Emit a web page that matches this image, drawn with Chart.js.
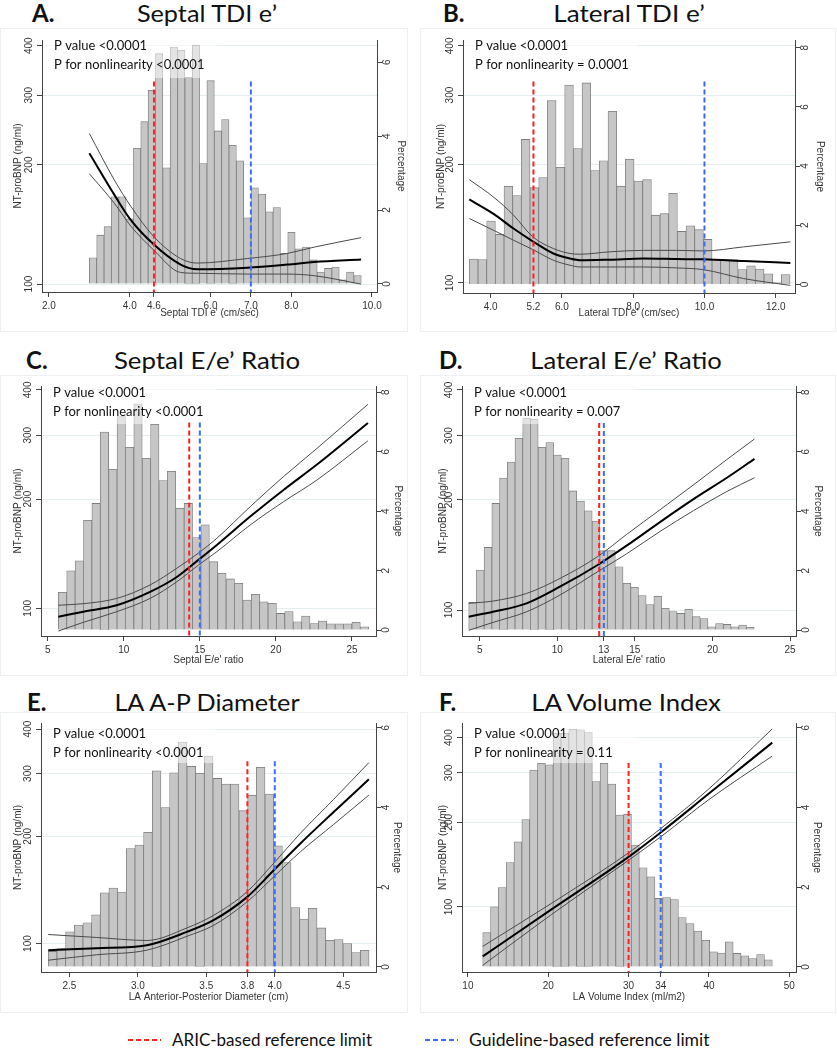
<!DOCTYPE html>
<html>
<head>
<meta charset="utf-8">
<script src="https://cdn.jsdelivr.net/npm/chart.js@4.4.1/dist/chart.umd.min.js"></script>
<style>
  body { margin: 0; width: 837px; height: 1050px; background: #fff; position: relative; overflow: hidden; }
  .frame { position: absolute; border: 1px solid #edf0f0; box-sizing: border-box; }
  .plot { position: absolute; }
  .letter, .title { position: absolute; font-family: Lato, sans-serif; font-size: 24px; line-height: 24px; color: #111; white-space: nowrap; }
  .letter { font-weight: bold; }
  .title { transform: translateX(-50%); }
  .legend { position: absolute; top: 1030px; font-family: Lato, sans-serif; font-size: 17px; line-height: 20px; color: #111; white-space: nowrap; transform-origin: 0 50%; }
</style>
</head>
<body>

<div class="letter" style="left:32px;top:1px">A.</div>
<div class="title" data-w="140" style="left:207px;top:1px">Septal TDI e’</div>
<div class="letter" style="left:443px;top:1px">B.</div>
<div class="title" data-w="152" style="left:629px;top:1px">Lateral TDI e’</div>
<div class="letter" style="left:26px;top:348px">C.</div>
<div class="title" data-w="186" style="left:207px;top:348px">Septal E/e’ Ratio</div>
<div class="letter" style="left:439px;top:348px">D.</div>
<div class="title" data-w="192" style="left:626px;top:348px">Lateral E/e’ Ratio</div>
<div class="letter" style="left:27px;top:690px">E.</div>
<div class="title" data-w="185" style="left:207px;top:690px">LA A-P Diameter</div>
<div class="letter" style="left:439px;top:690px">F.</div>
<div class="title" data-w="190" style="left:626px;top:690px">LA Volume Index</div>

<div class="frame" style="left:0;top:28px;width:408px;height:304px"></div>
<div class="frame" style="left:420px;top:28px;width:416px;height:304px"></div>
<div class="frame" style="left:0;top:375px;width:408px;height:301px"></div>
<div class="frame" style="left:420px;top:375px;width:416px;height:301px"></div>
<div class="frame" style="left:0;top:712px;width:408px;height:301px"></div>
<div class="frame" style="left:420px;top:712px;width:416px;height:301px"></div>

<canvas id="chartA" class="plot" style="left:0;top:28px" width="408" height="304"></canvas>
<canvas id="chartB" class="plot" style="left:420px;top:28px" width="416" height="304"></canvas>
<canvas id="chartC" class="plot" style="left:0;top:375px" width="408" height="301"></canvas>
<canvas id="chartD" class="plot" style="left:420px;top:375px" width="416" height="301"></canvas>
<canvas id="chartE" class="plot" style="left:0;top:712px" width="408" height="301"></canvas>
<canvas id="chartF" class="plot" style="left:420px;top:712px" width="416" height="301"></canvas>

<svg style="position:absolute;left:0;top:1030px" width="837" height="20">
  <line x1="128" y1="10" x2="161" y2="10" stroke="#ff2020" stroke-width="2" stroke-dasharray="5,3"/>
  <line x1="425" y1="10" x2="458" y2="10" stroke="#3b6ef5" stroke-width="2" stroke-dasharray="5,3"/>
</svg>
<div class="legend" data-w="200" style="left:172px">ARIC-based reference limit</div>
<div class="legend" data-w="241" style="left:469px">Guideline-based reference limit</div>

<script>
// ---- shared ticks / reference line top
const leftTicks = [100, 200, 300, 400];
const refTop = 325;

// ---- A. Septal TDI e'
const sepTdiBinStart = 3.0;
const sepTdiBinWidth = 0.182;
const sepTdiPct = [0.71, 1.32, 1.55, 2.36, 2.36, 1.76, 3.67, 4.39, 5.24, 6.23, 3.14, 6.41, 6.32, 5.59, 6.46, 3.26, 5.50, 4.14, 4.45, 3.75, 3.33, 1.79, 2.60, 2.43, 1.95, 2.07, 0.83, 1.40, 0.95, 1.00, 0.65, 0.32, 0.42, 0.46, 0.11, 0.32, 0.23];
const sepTdiCurveX = [3.0, 3.62, 4.03, 4.59, 5.26, 5.67, 6.91, 7.9, 8.57, 9.73];
const sepTdiMid = [214, 168, 145, 126, 112, 109, 110, 112, 113.7, 115.4];
const sepTdiUpper = [240, 183, 157, 132, 116, 113, 116, 119.5, 124, 131];
const sepTdiLower = [190, 160, 140, 122, 107, 106.5, 106, 106, 105, 100];
const sepTdiXTicks = [2, 4, 4.6, 6, 7, 8, 10];
const sepTdiRightTicks = [0, 2, 4, 6];
const sepTdiRefs = [4.6, 7.0];
const sepTdiNotes = ['P value <0.0001', 'P for nonlinearity <0.0001'];

// ---- B. Lateral TDI e'
const latTdiBinStart = 3.402;
const latTdiBinWidth = 0.2432;
const latTdiPct = [0.86, 0.84, 2.14, 1.69, 3.32, 3.00, 4.90, 3.27, 3.61, 6.21, 3.96, 6.74, 4.59, 6.81, 3.85, 4.18, 5.85, 3.32, 4.23, 3.49, 3.54, 2.34, 2.39, 3.08, 1.79, 1.98, 1.85, 1.52, 0.84, 0.84, 0.84, 0.50, 0.63, 0.52, 0.36, 0.05, 0.33];
const latTdiCurveX = [3.40, 4.07, 4.64, 5.18, 5.76, 6.23, 6.51, 7.35, 8.29, 9.22, 9.97, 11.10, 12.41];
const latTdiMid = [163, 150, 137.5, 127.6, 118.8, 115.3, 114.2, 114.6, 115.3, 115, 114.8, 113.7, 112.4];
const latTdiUpper = [183, 165.5, 148.7, 131, 122.3, 118.8, 118.3, 120, 121, 121, 120.6, 123.5, 127.2];
const latTdiLower = [145.8, 136.2, 128.4, 121.6, 114.2, 110.9, 109.8, 109.8, 109.8, 109.2, 108.1, 102.6, 98.6];
const latTdiXTicks = [4, 5.2, 6, 8, 10, 12];
const latTdiRightTicks = [0, 2, 4, 6, 8];
const latTdiRefs = [5.2, 10.0];
const latTdiNotes = ['P value <0.0001', 'P for nonlinearity = 0.0001'];

// ---- C. Septal E/e' ratio
const sepEeBinStart = 5.70;
const sepEeBinWidth = 0.5513;
const sepEePct = [1.27, 1.99, 2.33, 3.69, 4.26, 6.66, 5.41, 7.18, 6.15, 7.61, 5.78, 6.92, 5.03, 5.34, 4.10, 4.26, 3.11, 3.54, 2.30, 1.91, 1.72, 1.57, 1.01, 1.20, 0.95, 0.90, 0.56, 0.62, 0.28, 0.47, 0.22, 0.30, 0.21, 0.21, 0.21, 0.26, 0.11];
const sepEeCurveX = [5.70, 7.34, 9.54, 11.73, 13.49, 14.91, 16.12, 18.31, 20.5, 22.7, 26.05];
const sepEeMid = [94.8, 97.9, 102, 111, 122, 136, 149.5, 179, 212, 249, 324];
const sepEeUpper = [102, 103, 106.5, 116, 129, 142, 156, 190.6, 230.7, 276, 365];
const sepEeLower = [86.6, 91.5, 97.9, 106.5, 118.4, 131.6, 143.3, 169.7, 196.7, 225.8, 289.6];
const sepEeXTicks = [5, 10, 15, 20, 25];
const sepEeRightTicks = [0, 2, 4, 6, 8];
const sepEeRefs = [14.3, 15];
const sepEeNotes = ['P value <0.0001', 'P for nonlinearity <0.0001'];

// ---- D. Lateral E/e' ratio
const latEeBinStart = 4.29;
const latEeBinWidth = 0.4973;
const latEePct = [0.93, 2.02, 2.78, 4.26, 5.11, 5.65, 6.45, 7.13, 7.09, 6.15, 6.31, 5.89, 5.78, 4.68, 4.34, 4.01, 3.67, 2.67, 2.67, 2.13, 1.57, 1.44, 1.16, 0.86, 1.14, 0.73, 0.62, 0.56, 0.70, 0.45, 0.39, 0.11, 0.22, 0.19, 0.11, 0.17, 0.09];
const latEeCurveX = [4.29, 5.86, 8.02, 10.17, 12.6, 14.47, 16.62, 18.78, 20.93, 22.71];
const latEeMid = [95.9, 98.9, 104.3, 115.8, 132.8, 150, 174, 201, 230, 259];
const latEeUpper = [104.3, 105.8, 111, 122, 140, 161, 188, 220, 258, 293.7];
const latEeLower = [88, 92.5, 98.9, 109.9, 127.3, 142.5, 164, 187, 211, 230];
const latEeXTicks = [5, 10, 13, 15, 20, 25];
const latEeRightTicks = [0, 2, 4, 6, 8];
const latEeRefs = [12.7, 13];
const latEeNotes = ['P value <0.0001', 'P for nonlinearity = 0.007'];

// ---- E. LA A-P diameter
const laApBinStart = 2.346;
const laApBinWidth = 0.0633;
const laApPct = [0.39, 0.46, 0.88, 1.05, 1.11, 1.31, 1.86, 1.98, 1.88, 2.97, 3.06, 3.38, 4.92, 4.00, 4.87, 5.64, 5.03, 4.86, 5.29, 4.73, 4.59, 4.59, 3.92, 4.31, 5.01, 4.34, 3.04, 2.62, 1.49, 1.20, 1.47, 0.98, 0.67, 0.69, 0.59, 0.36, 0.42];
const laApCurveX = [2.346, 2.7, 3.066, 3.358, 3.553, 3.797, 3.992, 4.187, 4.43, 4.687];
const laApMid = [95.8, 97, 98.9, 107.8, 116.3, 135, 160.6, 191, 234, 289];
const laApUpper = [106, 104, 102, 110.6, 120, 139.7, 168, 204, 254, 322];
const laApLower = [89.8, 93, 95.8, 104.8, 112.5, 130.9, 153.9, 181, 216, 261];
const laApXTicks = [2.5, 3.0, 3.5, 3.8, 4.0, 4.5];
const laApRightTicks = [0, 2, 4, 6];
const laApRefs = [3.8, 4.0];
const laApNotes = ['P value <0.0001', 'P for nonlinearity <0.0001'];

// ---- F. LA volume index
const laviBinStart = 11.845;
const laviBinWidth = 0.974;
const laviPct = [0.86, 1.51, 1.99, 2.62, 3.14, 3.70, 4.94, 5.11, 5.07, 5.86, 5.86, 5.96, 5.95, 5.88, 4.65, 5.11, 4.59, 3.81, 3.83, 3.06, 2.49, 2.26, 1.72, 1.74, 1.69, 1.24, 1.09, 0.90, 0.67, 0.38, 0.35, 0.63, 0.34, 0.28, 0.21, 0.31, 0.18];
const laviCurveX = [11.845, 20.4, 30, 34, 40, 47.88];
const laviMid = [66.7, 98, 150.7, 184, 253, 384];
const laviUpper = [72.4, 103, 155.8, 190, 263, 430];
const laviLower = [62, 94, 146.6, 177.6, 241, 344];
const laviXTicks = [10, 20, 30, 34, 40, 50];
const laviRightTicks = [0, 2, 4, 6];
const laviRefs = [30, 34];
const laviNotes = ['P value <0.0001', 'P for nonlinearity = 0.11'];

Chart.defaults.font.family = '"Liberation Sans", Arial, sans-serif';
Chart.defaults.color = '#333';

// squeeze the headings and legend text to the widths of the original
document.querySelectorAll('.title').forEach(el => {
    const s = Number(el.dataset.w) / el.offsetWidth;
    el.style.transform = 'translateX(-50%) scaleX(' + s + ')';
});
document.querySelectorAll('.legend').forEach(el => {
    const s = Number(el.dataset.w) / el.offsetWidth;
    el.style.transform = 'scaleX(' + s + ')';
});

// white see-through box behind the P values, then the text itself
const pNotePlugin = {
    id: 'pnote',
    afterDatasetDraw(chart, args, opts) {
        if (args.index !== 0) return;
        const a = chart.chartArea;
        const ctx = chart.ctx;
        ctx.save();
        ctx.fillStyle = 'rgba(255,255,255,0.5)';
        ctx.fillRect(a.left + 1, a.top, opts.boxWidth, opts.boxHeight);
        ctx.restore();
    },
    afterDatasetsDraw(chart, args, opts) {
        const a = chart.chartArea;
        const ctx = chart.ctx;
        ctx.save();
        ctx.font = '14px Lato';
        ctx.fillStyle = '#111';
        // first line is 93px wide in the original
        const sx = 93 / ctx.measureText(opts.lines[0]).width;
        opts.lines.forEach((t, i) => {
            ctx.save();
            ctx.translate(a.left + 12, a.top + opts.textTop + i * 19);
            ctx.scale(sx, 1);
            ctx.fillText(t, 0, 0);
            ctx.restore();
        });
        ctx.restore();
    }
};

// vertical (rotated) tick labels on both y axes
const sideTicksPlugin = {
    id: 'sideticks',
    afterDraw(chart) {
        const ctx = chart.ctx;
        ctx.save();
        ctx.font = '10px "Liberation Sans"';
        ctx.fillStyle = '#333';
        ctx.textAlign = 'center';
        ctx.textBaseline = 'middle';
        ['y', 'y2'].forEach(id => {
            const sc = chart.scales[id];
            const x = id === 'y' ? sc.right - 12.5 : sc.left + 10;
            sc.ticks.forEach(t => {
                const py = sc.getPixelForValue(t.value);
                ctx.save();
                ctx.translate(x, py);
                ctx.rotate(-Math.PI / 2);
                ctx.fillText(String(t.value), 0, 0);
                ctx.restore();
            });
        });
        ctx.restore();
    }
};

function makePanel(canvasId, d, lay) {
    const bars = d.pct.map((v, i) => ({ x: d.binStart + d.binWidth * (i + 0.5), y: v }));
    const curve = vals => d.curveX.map((x, i) => ({ x: x, y: vals[i] }));
    const spline = (vals, color, width) => ({
        type: 'line', data: curve(vals), yAxisID: 'y',
        borderColor: color, borderWidth: width, pointRadius: 0,
        cubicInterpolationMode: 'monotone', order: 2
    });
    const refLine = (x, color) => ({
        type: 'line', data: [{ x: x, y: refTop }, { x: x, y: lay.yMin }], yAxisID: 'y',
        borderColor: color, borderWidth: 2, borderDash: [5, 3], pointRadius: 0, order: 1
    });
    const tickList = list => scale => { scale.ticks = list.map(v => ({ value: v })); };

    new Chart(document.getElementById(canvasId), {
        type: 'bar',
        data: {
            datasets: [
                {
                    type: 'bar', data: bars, yAxisID: 'y2',
                    backgroundColor: '#c6c6c6', borderColor: '#7c7c7c', borderWidth: 0.8,
                    barPercentage: 1, categoryPercentage: 1, order: 3
                },
                spline(d.upper, '#4a4a4a', 1),
                spline(d.lower, '#4a4a4a', 1),
                spline(d.mid, '#000', 2),
                refLine(d.refs[0], '#ff2020'),
                refLine(d.refs[1], '#3b6ef5')
            ]
        },
        options: {
            responsive: false,
            animation: false,
            layout: { padding: { top: lay.top, left: 0, right: 0, bottom: 0 } },
            plugins: {
                legend: { display: false },
                tooltip: { enabled: false },
                pnote: { lines: d.notes, boxWidth: 174, boxHeight: lay.boxH, textTop: lay.textTop }
            },
            scales: {
                x: {
                    type: 'linear', min: lay.xMin, max: lay.xMax, offset: false,
                    afterBuildTicks: tickList(d.xTicks),
                    afterFit: s => { s.height = lay.height - lay.bottom; },
                    grid: { drawOnChartArea: false, offset: false, tickLength: 5, tickColor: '#444' },
                    border: { display: true, color: '#444' },
                    ticks: {
                        autoSkip: false, maxRotation: 0, minRotation: 0, padding: 3,
                        font: { size: 10 }, color: '#333',
                        callback: v => d.decimals ? v.toFixed(1) : String(v)
                    },
                    title: { display: true, text: d.xTitle, font: { size: 10 }, color: '#333',
                             padding: { top: 0, bottom: lay.height - 285 - 6 } }
                },
                y: {
                    type: 'logarithmic', position: 'left', min: lay.yMin, max: lay.yMax,
                    afterBuildTicks: tickList(leftTicks),
                    afterFit: s => { s.width = lay.left; },
                    grid: { color: '#e3eef0', tickLength: 5, tickColor: '#444' },
                    border: { display: true, color: '#444' },
                    ticks: { display: false },
                    title: { display: true, text: 'NT-proBNP (ng/ml)', font: { size: 10 }, color: '#333',
                             padding: { top: lay.yTitleX - 6, bottom: 0 } }
                },
                y2: {
                    type: 'linear', position: 'right', min: lay.pMin, max: lay.pMax,
                    afterBuildTicks: tickList(d.rightTicks),
                    afterFit: s => { s.width = lay.width - lay.right; },
                    grid: { drawOnChartArea: false, tickLength: 5, tickColor: '#444' },
                    border: { display: true, color: '#444' },
                    ticks: { display: false },
                    title: { display: true, text: 'Percentage', font: { size: 10 }, color: '#333',
                             padding: { top: lay.width - lay.y2TitleX - 6, bottom: 0 } }
                }
            }
        },
        plugins: [pNotePlugin, sideTicksPlugin]
    });
}

makePanel('chartA', {
    binStart: sepTdiBinStart, binWidth: sepTdiBinWidth, pct: sepTdiPct,
    curveX: sepTdiCurveX, mid: sepTdiMid, upper: sepTdiUpper, lower: sepTdiLower,
    xTicks: sepTdiXTicks, rightTicks: sepTdiRightTicks, refs: sepTdiRefs, notes: sepTdiNotes,
    decimals: true, xTitle: "Septal TDI e' (cm/sec)"
}, { width: 408, height: 304, left: 42, right: 377, top: 12, bottom: 264,
     xMin: 1.827, xMax: 10.124, yMin: 95.5, yMax: 413.5, pMin: -0.217, pMax: 6.6,
     boxH: 38, textTop: 9.5, yTitleX: 18, y2TitleX: 401 });

makePanel('chartB', {
    binStart: latTdiBinStart, binWidth: latTdiBinWidth, pct: latTdiPct,
    curveX: latTdiCurveX, mid: latTdiMid, upper: latTdiUpper, lower: latTdiLower,
    xTicks: latTdiXTicks, rightTicks: latTdiRightTicks, refs: latTdiRefs, notes: latTdiNotes,
    decimals: true, xTitle: "Lateral TDI e' (cm/sec)"
}, { width: 416, height: 304, left: 43, right: 375, top: 12, bottom: 265,
     xMin: 3.223, xMax: 12.54, yMin: 94.3, yMax: 414, pMin: -0.29, pMax: 8.26,
     boxH: 38, textTop: 9.5, yTitleX: 21.5, y2TitleX: 400 });

makePanel('chartC', {
    binStart: sepEeBinStart, binWidth: sepEeBinWidth, pct: sepEePct,
    curveX: sepEeCurveX, mid: sepEeMid, upper: sepEeUpper, lower: sepEeLower,
    xTicks: sepEeXTicks, rightTicks: sepEeRightTicks, refs: sepEeRefs, notes: sepEeNotes,
    decimals: false, xTitle: "Septal E/e' ratio"
}, { width: 408, height: 301, left: 41, right: 376, top: 11, bottom: 261,
     xMin: 4.56, xMax: 26.58, yMin: 83.9, yMax: 410, pMin: -0.2, pMax: 8.21,
     boxH: 38, textTop: 10.7, yTitleX: 18, y2TitleX: 398 });

makePanel('chartD', {
    binStart: latEeBinStart, binWidth: latEeBinWidth, pct: latEePct,
    curveX: latEeCurveX, mid: latEeMid, upper: latEeUpper, lower: latEeLower,
    xTicks: latEeXTicks, rightTicks: latEeRightTicks, refs: latEeRefs, notes: latEeNotes,
    decimals: false, xTitle: "Lateral E/e' ratio"
}, { width: 416, height: 301, left: 42, right: 376, top: 11, bottom: 261,
     xMin: 3.857, xMax: 25.386, yMin: 84.9, yMax: 410, pMin: -0.2, pMax: 8.21,
     boxH: 38, textTop: 10.7, yTitleX: 23, y2TitleX: 398 });

makePanel('chartE', {
    binStart: laApBinStart, binWidth: laApBinWidth, pct: laApPct,
    curveX: laApCurveX, mid: laApMid, upper: laApUpper, lower: laApLower,
    xTicks: laApXTicks, rightTicks: laApRightTicks, refs: laApRefs, notes: laApNotes,
    decimals: true, xTitle: 'LA Anterior-Posterior Diameter (cm)'
}, { width: 408, height: 301, left: 41, right: 376, top: 11, bottom: 260,
     xMin: 2.293, xMax: 4.739, yMin: 83.2, yMax: 416, pMin: -0.126, pMax: 6.12,
     boxH: 40, textTop: 15.3, yTitleX: 18, y2TitleX: 397 });

makePanel('chartF', {
    binStart: laviBinStart, binWidth: laviBinWidth, pct: laviPct,
    curveX: laviCurveX, mid: laviMid, upper: laviUpper, lower: laviLower,
    xTicks: laviXTicks, rightTicks: laviRightTicks, refs: laviRefs, notes: laviNotes,
    decimals: false, xTitle: 'LA Volume Index (ml/m2)'
}, { width: 416, height: 301, left: 42, right: 376, top: 11, bottom: 260,
     xMin: 9.264, xMax: 50.835, yMin: 58.7, yMax: 451, pMin: -0.126, pMax: 6.12,
     boxH: 40, textTop: 15.3, yTitleX: 23, y2TitleX: 397 });
</script>
</body>
</html>
